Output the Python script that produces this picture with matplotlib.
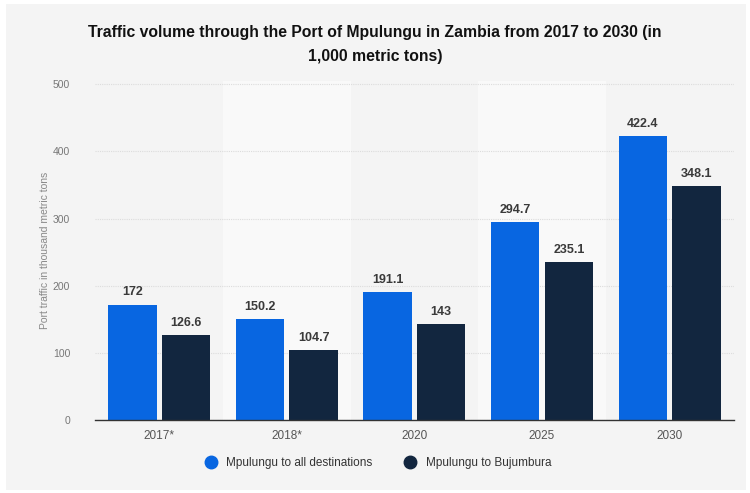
import numpy as np
import matplotlib.pyplot as plt
from matplotlib.patches import Rectangle
from matplotlib.lines import Line2D

plt.rcParams['font.family'] = ['Liberation Sans', 'DejaVu Sans']

# Port traffic, thousand metric tons
years = ['2017*', '2018*', '2020', '2025', '2030']
all_destinations = [172, 150.2, 191.1, 294.7, 422.4]
to_bujumbura = [126.6, 104.7, 143, 235.1, 348.1]
series_names = ['Mpulungu to all destinations', 'Mpulungu to Bujumbura']

blue = '#0866e1'
navy = '#12263f'
panel = '#f4f4f4'

fig = plt.figure(figsize=(7.5, 4.93), dpi=100)
fig.patch.set_facecolor('white')
# grey card behind everything
fig.add_artist(Rectangle((0.008, 0.006), 0.986, 0.986, transform=fig.transFigure,
                         facecolor=panel, edgecolor='none', zorder=-10))

ax = fig.add_axes([0.127, 0.148, 0.851, 0.688])
ax.set_facecolor(panel)

x = np.arange(len(years))
w = 0.38
off = 0.21

# lighter bands behind every other category
for i in x:
    if i % 2 == 1:
        ax.axvspan(i - 0.5, i + 0.5, color='#f9f9f9', zorder=0, lw=0)

b1 = ax.bar(x - off, all_destinations, w, color=blue, zorder=3)
b2 = ax.bar(x + off, to_bujumbura, w, color=navy, zorder=3)

for bars, vals in ((b1, all_destinations), (b2, to_bujumbura)):
    for rect, v in zip(bars, vals):
        ax.text(rect.get_x() + rect.get_width() / 2, v + 9, f'{v:g}',
                ha='center', va='bottom', fontsize=9, fontweight='bold', color='#3a3a3a')

ax.set_xlim(-0.5, len(years) - 0.5)
ax.set_ylim(0, 505)
ax.set_yticks([0, 100, 200, 300, 400, 500])
ax.yaxis.grid(True, color='#dcdcdc', linestyle=(0, (1, 1)), linewidth=0.8, zorder=1)
ax.set_axisbelow(True)
ax.set_xticks(x)
ax.set_xticklabels(years)
ax.tick_params(axis='x', length=0, pad=7, labelsize=8.5, labelcolor='#555555')
ax.tick_params(axis='y', length=0, pad=18, labelsize=7.5, labelcolor='#777777')
for s in ['top', 'right', 'left']:
    ax.spines[s].set_visible(False)
ax.spines['bottom'].set_color('#333333')
ax.spines['bottom'].set_linewidth(1.0)
ax.spines['bottom'].set_zorder(4)

ax.set_ylabel('Port traffic in thousand metric tons', fontsize=7.5, color='#888888', labelpad=2)

fig.text(0.5, 0.935, 'Traffic volume through the Port of Mpulungu in Zambia from 2017 to 2030 (in',
         ha='center', va='center', fontsize=11.3, fontweight='bold', color='#111111')
fig.text(0.5, 0.885, '1,000 metric tons)',
         ha='center', va='center', fontsize=11.3, fontweight='bold', color='#111111')

handles = [Line2D([], [], marker='o', linestyle='none', markersize=9, color=c)
           for c in (blue, navy)]
fig.legend(handles, series_names, loc='center', bbox_to_anchor=(0.5, 0.061), ncol=2,
           frameon=False, fontsize=8.5, handletextpad=0.3, columnspacing=2.2,
           labelcolor='#333333')

fig.savefig('out.png', dpi=100, facecolor=fig.get_facecolor())
